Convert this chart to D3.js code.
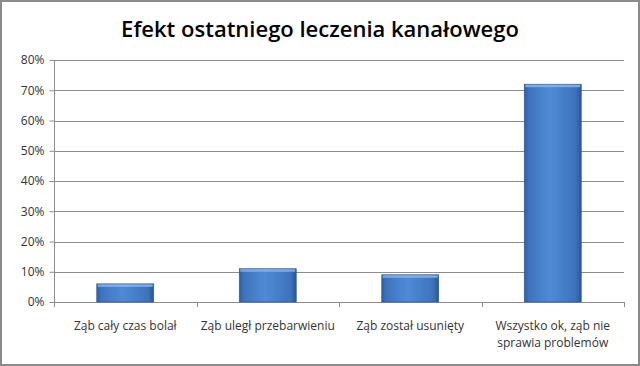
<!DOCTYPE html>
<html><head><meta charset="utf-8">
<script src="https://cdn.jsdelivr.net/npm/d3@7"></script>
<style>html,body{margin:0;padding:0;background:#fff}svg{display:block}</style>
</head><body>
<script>
const title = "Efekt ostatniego leczenia kanałowego";
const categories = [["Ząb cały czas bolał"],["Ząb uległ przebarwieniu"],["Ząb został usunięty"],["Wszystko ok, ząb nie","sprawia problemów"]];
const values = [0.06, 0.11, 0.09, 0.72];
const yTicks = [0,0.1,0.2,0.3,0.4,0.5,0.6,0.7,0.8];

const W=640,H=366;
const svg=d3.select("body").append("svg").attr("width",W).attr("height",H);
svg.append("rect").attr("x",1).attr("y",1).attr("width",W-2).attr("height",H-2).attr("fill","#fff").attr("stroke","#8a8a8a").attr("stroke-width",2);

const defs=svg.append("defs");
const g1=defs.append("linearGradient").attr("id","bar").attr("x1","0").attr("x2","1").attr("y1","0").attr("y2","0");
g1.append("stop").attr("offset","0").attr("stop-color","#2f5e9e");
g1.append("stop").attr("offset","0.08").attr("stop-color","#3f74bd");
g1.append("stop").attr("offset","0.45").attr("stop-color","#4f8ad6");
g1.append("stop").attr("offset","0.9").attr("stop-color","#3d73bb");
g1.append("stop").attr("offset","1").attr("stop-color","#2b5592");

const x0=54,x1=624,yTop=60,yBot=302;
const x=d3.scaleBand().domain(d3.range(categories.length)).range([x0,x1]).paddingInner(0.6).paddingOuter(0.3);
const y=d3.scaleLinear().domain([0,0.8]).range([yBot,yTop]);

svg.append("text").attr("x",320).attr("y",37).attr("text-anchor","middle")
 .attr("font-family","'Open Sans',sans-serif").attr("font-weight","600").attr("font-size",22).attr("fill","#000").text(title);

// gridlines
svg.append("g").selectAll("line").data(yTicks).join("line")
 .attr("x1",x0).attr("x2",x1).attr("y1",d=>Math.round(y(d))+0.5).attr("y2",d=>Math.round(y(d))+0.5)
 .attr("stroke","#8c8c8c").attr("stroke-width",1);

const ya=svg.append("g").attr("transform",`translate(${x0+0.5},0)`)
 .call(d3.axisLeft(y).tickValues(yTicks).tickFormat(d3.format(".0%")).tickSize(5).tickPadding(5));
ya.select(".domain").attr("stroke","#8c8c8c").attr("d",`M0,${yTop}V${yBot}`);
ya.selectAll(".tick line").attr("stroke","#8c8c8c");
ya.selectAll(".tick text").attr("font-family","'Open Sans',sans-serif").attr("font-size",12).attr("fill","#333");

// x axis ticks
const bounds=d3.range(categories.length+1).map(i=>x0+i*(x1-x0)/categories.length);
svg.append("g").selectAll("line").data(bounds).join("line")
 .attr("x1",d=>Math.round(d)+0.5).attr("x2",d=>Math.round(d)+0.5).attr("y1",yBot).attr("y2",yBot+5).attr("stroke","#8c8c8c");

// bars
const bars=svg.append("g").selectAll("g").data(values).join("g");
bars.append("rect").attr("x",(d,i)=>x(i)).attr("y",d=>y(d)).attr("width",x.bandwidth()).attr("height",d=>yBot-y(d))
 .attr("fill","url(#bar)").attr("stroke","#2a5590").attr("stroke-width",0.6);
bars.append("rect").attr("x",(d,i)=>x(i)+1).attr("y",d=>y(d)+0.5).attr("width",x.bandwidth()-2).attr("height",2.5)
 .attr("fill","#8db8ec").attr("opacity",0.8);

// x labels
const lab=svg.append("g").selectAll("text").data(categories).join("text")
 .attr("x",(d,i)=>x(i)+x.bandwidth()/2).attr("y",330).attr("text-anchor","middle")
 .attr("font-family","'Open Sans',sans-serif").attr("font-size",12).attr("fill","#333");
lab.selectAll("tspan").data(d=>d).join("tspan").attr("x",function(){return this.parentNode.getAttribute("x");})
 .attr("dy",(d,i)=>i?17:0).text(d=>d);
</script>
</body></html>
